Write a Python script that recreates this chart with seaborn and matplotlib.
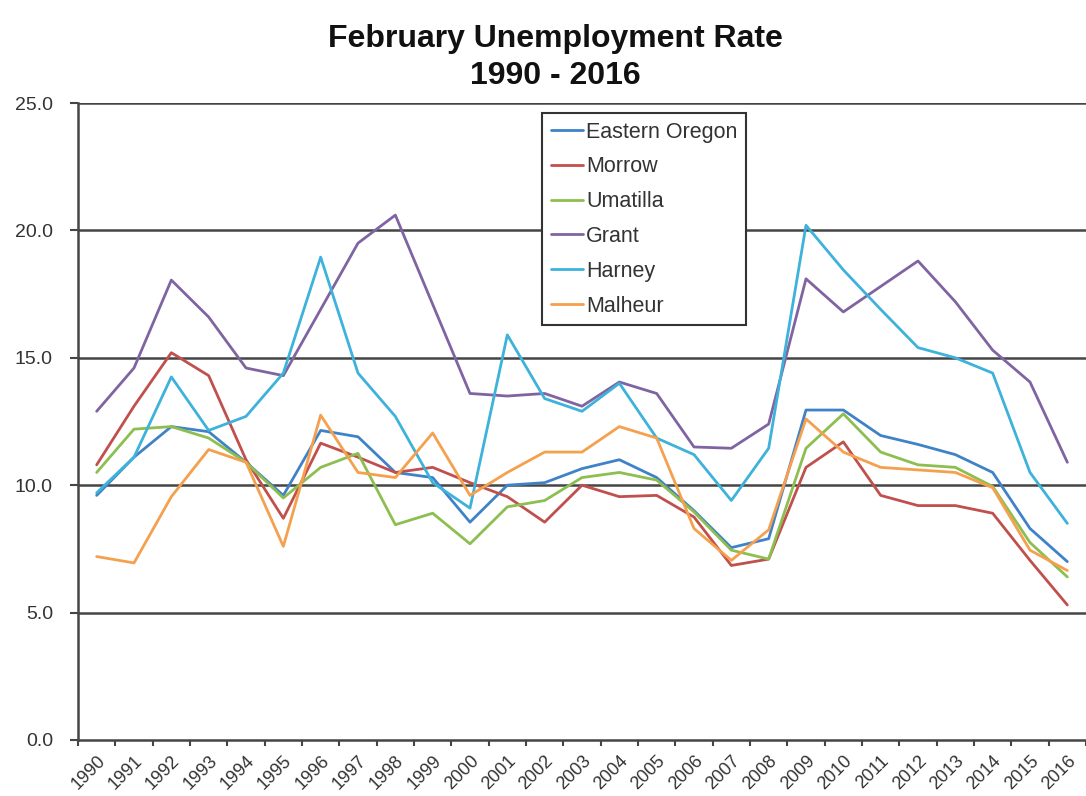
import matplotlib
matplotlib.use("Agg")
import matplotlib.pyplot as plt
import seaborn as sns
import pandas as pd
import numpy as np
from matplotlib.ticker import FixedLocator, FuncFormatter

years = [str(y) for y in range(1990, 2017)]

eastern_oregon = [9.6, 11.1, 12.3, 12.1, 10.9, 9.6, 12.15, 11.9, 10.5, 10.3, 8.55, 10.0, 10.1, 10.65, 11.0, 10.3,
                  9.0, 7.55, 7.9, 12.95, 12.95, 11.95, 11.6, 11.2, 10.5, 8.3, 7.0]
morrow = [10.8, 13.1, 15.2, 14.3, 11.0, 8.7, 11.65, 11.1, 10.5, 10.7, 10.1, 9.55, 8.55, 10.0, 9.55, 9.6,
          8.75, 6.85, 7.1, 10.7, 11.7, 9.6, 9.2, 9.2, 8.9, 7.05, 5.3]
umatilla = [10.5, 12.2, 12.3, 11.85, 10.9, 9.5, 10.7, 11.25, 8.45, 8.9, 7.7, 9.15, 9.4, 10.3, 10.5, 10.2,
            8.95, 7.45, 7.1, 11.45, 12.8, 11.3, 10.8, 10.7, 9.95, 7.75, 6.4]
grant = [12.9, 14.6, 18.05, 16.6, 14.6, 14.3, 16.9, 19.5, 20.6, 17.1, 13.6, 13.5, 13.6, 13.1, 14.05, 13.6,
         11.5, 11.45, 12.4, 18.1, 16.8, 17.8, 18.8, 17.2, 15.3, 14.05, 10.9]
harney = [9.7, 11.1, 14.25, 12.15, 12.7, 14.4, 18.95, 14.4, 12.7, 10.1, 9.1, 15.9, 13.4, 12.9, 14.0, 11.85,
          11.2, 9.4, 11.45, 20.2, 18.45, 16.9, 15.4, 15.0, 14.4, 10.5, 8.5]
malheur = [7.2, 6.95, 9.55, 11.4, 10.9, 7.6, 12.75, 10.5, 10.3, 12.05, 9.6, 10.5, 11.3, 11.3, 12.3, 11.85,
           8.3, 7.05, 8.25, 12.6, 11.3, 10.7, 10.6, 10.5, 9.9, 7.45, 6.65]

series_names = ["Eastern Oregon", "Morrow", "Umatilla", "Grant", "Harney", "Malheur"]
series_values = [eastern_oregon, morrow, umatilla, grant, harney, malheur]
colors = ["#3F82C8", "#C0504D", "#8DBE50", "#8064A2", "#3DB2DA", "#F5A04E"]

rows = []
for name, vals in zip(series_names, series_values):
    for i, v in enumerate(vals):
        rows.append({"pos": i, "Year": years[i], "County": name, "Rate": v})
df = pd.DataFrame(rows)

sns.set_theme(style="white")
plt.rcParams["font.family"] = ["Liberation Sans", "DejaVu Sans"]

fig = plt.figure(figsize=(10.86, 7.96), dpi=100)
ax = fig.add_axes([78/1086, 1 - 740/796, (1086 - 78)/1086, (740 - 103)/796])

sns.lineplot(data=df, x="pos", y="Rate", hue="County", hue_order=series_names,
             palette=dict(zip(series_names, colors)), linewidth=2.0, ax=ax, legend=True,
             estimator=None, sort=False)

ax.set_xlim(-0.5, len(years) - 0.5)
ax.set_ylim(0, 25)
ax.set_yticks([0, 5, 10, 15, 20, 25])
ax.yaxis.set_major_formatter(FuncFormatter(lambda v, p: f"{v:.1f}"))
for yv in [5, 10, 15, 20, 25]:
    ax.axhline(yv, color="#454545", linewidth=1.8, zorder=0)

ax.set_xticks(range(len(years)))
ax.set_xticklabels(years, rotation=45, ha="right", va="top", rotation_mode="anchor",
                   fontsize=13, color="#333333")
ax.xaxis.set_minor_locator(FixedLocator(np.arange(-0.5, len(years), 1.0)))
ax.tick_params(axis="x", which="major", length=0, pad=9)
ax.tick_params(axis="x", which="minor", length=4, width=1.5, color="#454545", bottom=True, direction="out")
ax.tick_params(axis="y", which="major", length=6, width=1.5, color="#454545", left=True,
               labelsize=14, labelcolor="#333333", pad=12)

ax.set_xlabel("")
ax.set_ylabel("")
for side in ["top", "right"]:
    ax.spines[side].set_visible(False)
for side in ["left", "bottom"]:
    ax.spines[side].set_color("#454545")
    ax.spines[side].set_linewidth(1.8)

leg = ax.legend(loc="upper left", bbox_to_anchor=((542 - 78)/(1086 - 78), (740 - 113)/(740 - 103)),
                borderaxespad=0, frameon=True, fancybox=False, fontsize=15.5, handlelength=1.5,
                handletextpad=0.15, labelspacing=0.64, borderpad=0.4, title=None)
leg.get_frame().set_edgecolor("#333333")
leg.get_frame().set_linewidth(1.5)
leg.get_frame().set_alpha(1)
for t in leg.get_texts():
    t.set_color("#333333")

fig.text(555/1086, 1 - 47/796, "February Unemployment Rate", ha="center", va="baseline",
         fontsize=23, fontweight="bold", color="#111111")
fig.text(555/1086, 1 - 84/796, "1990 - 2016", ha="center", va="baseline",
         fontsize=23, fontweight="bold", color="#111111")

fig.savefig("out.png", dpi=100)
